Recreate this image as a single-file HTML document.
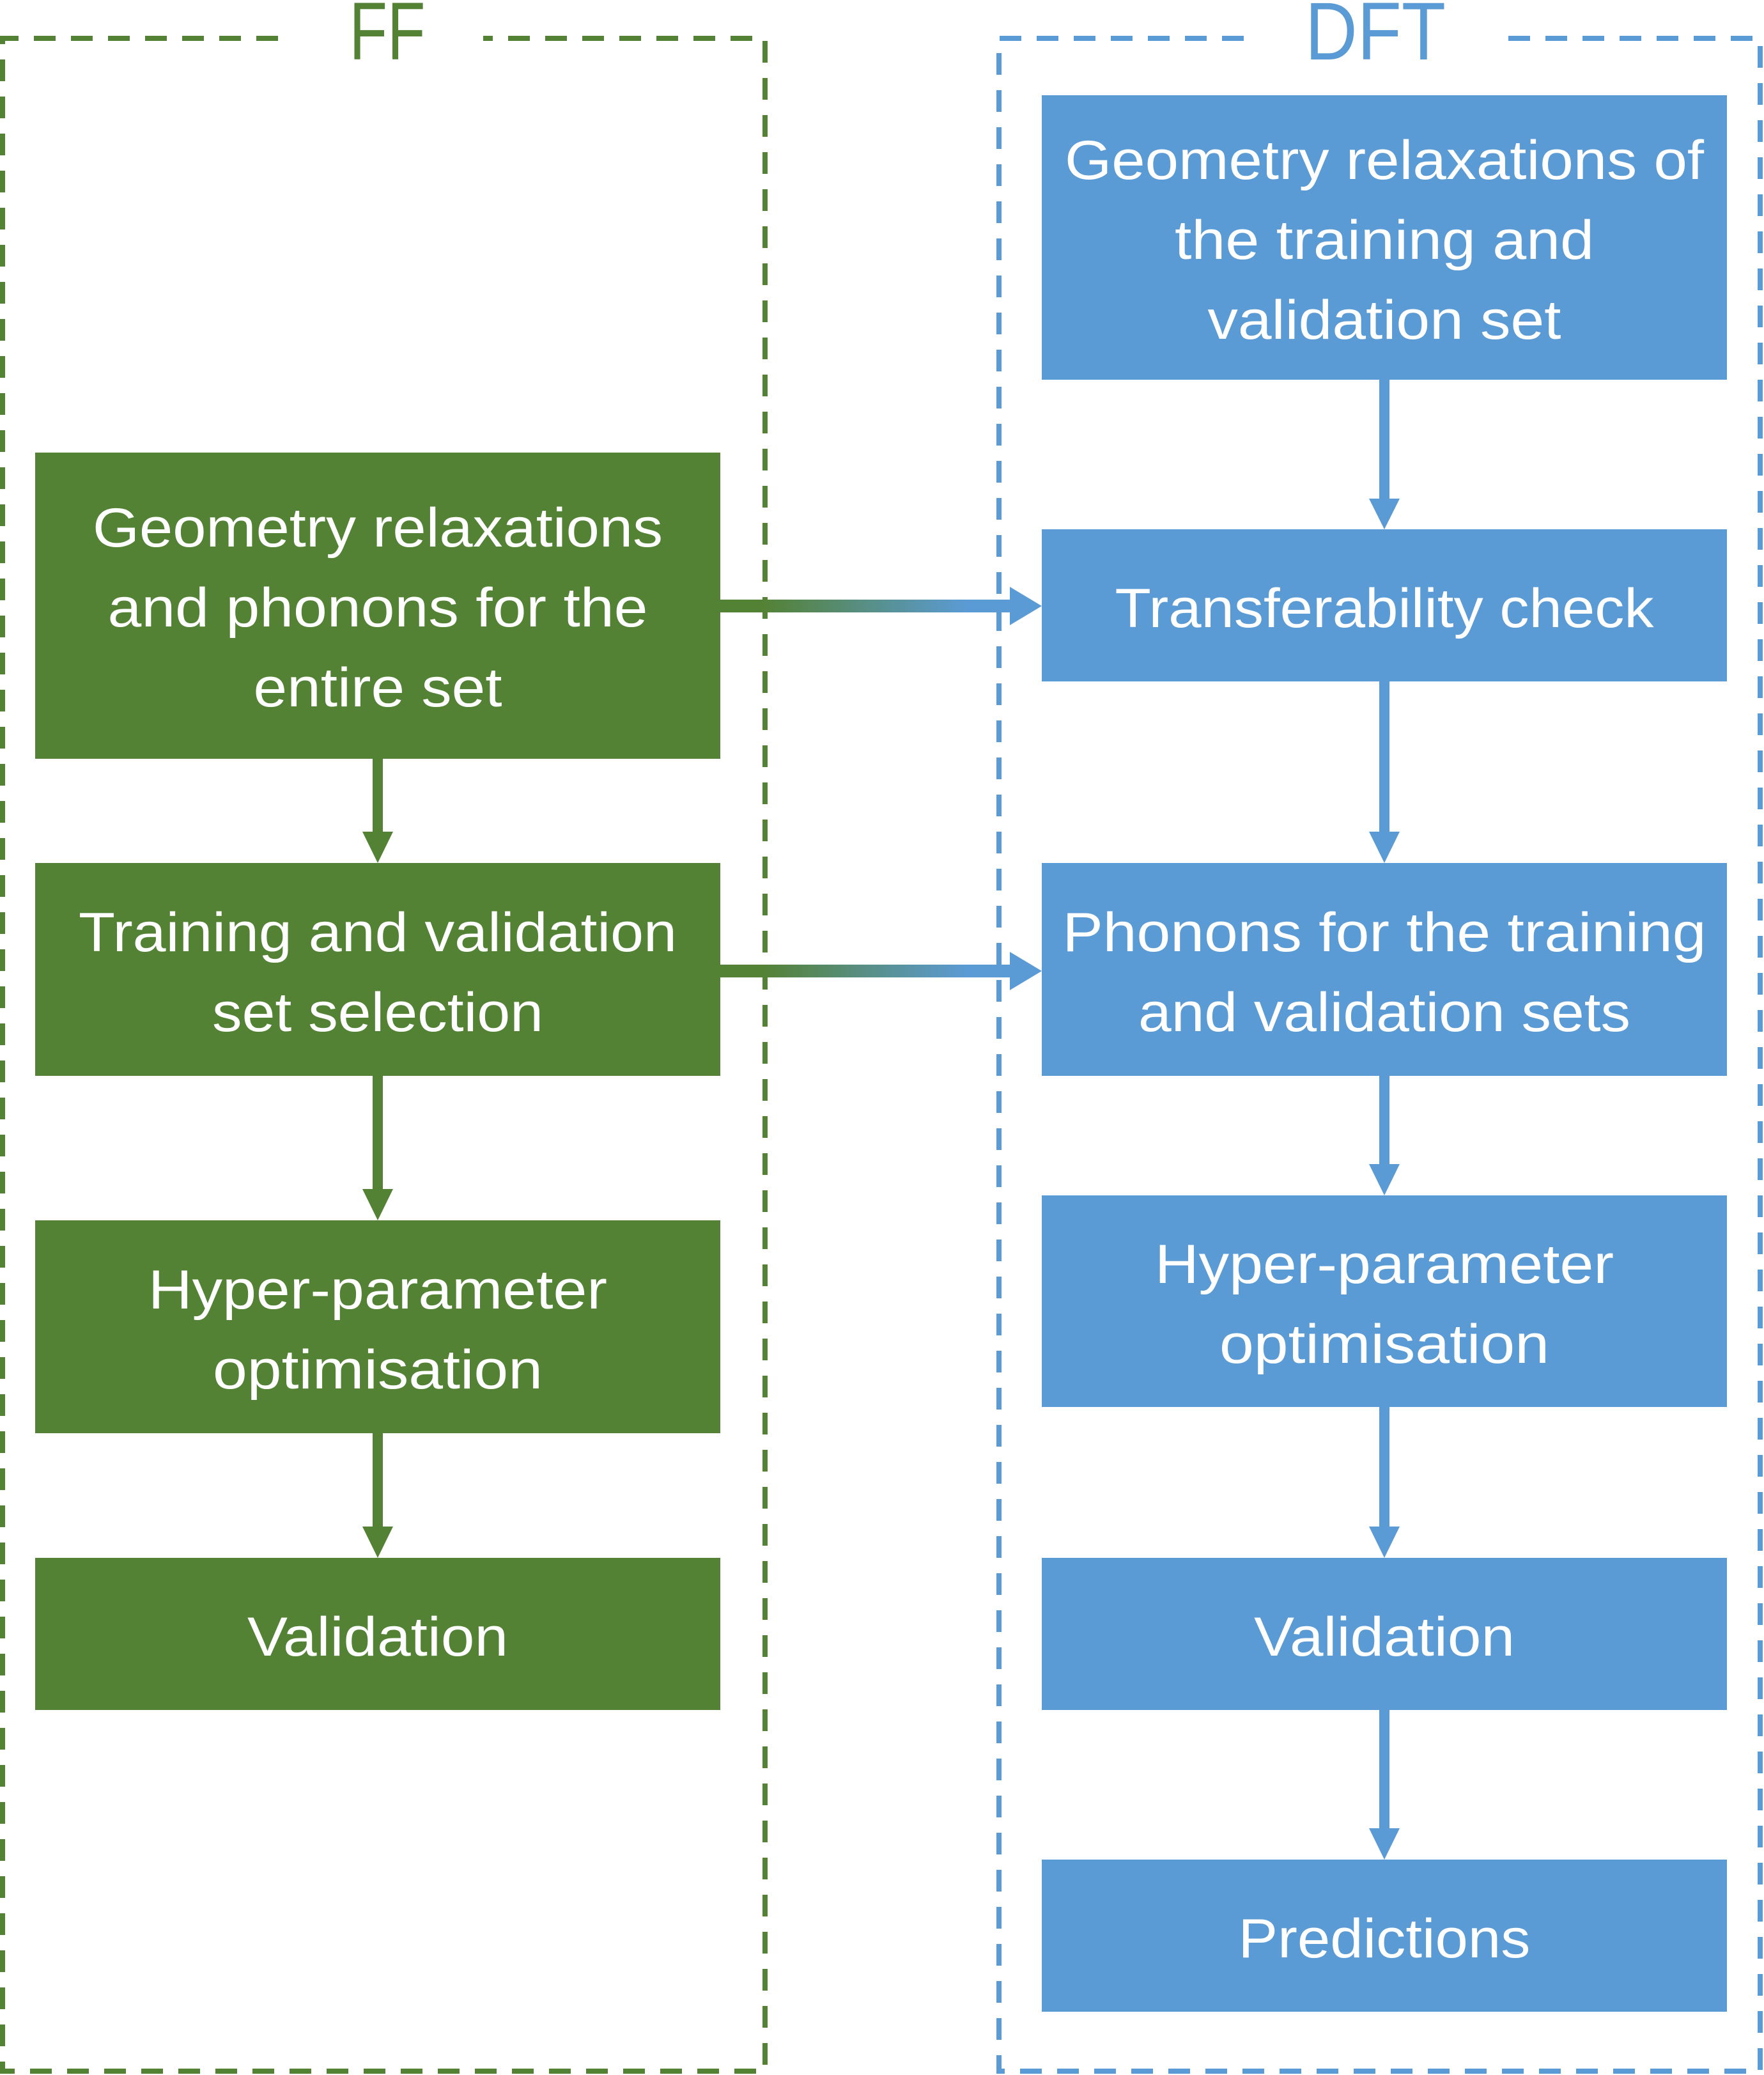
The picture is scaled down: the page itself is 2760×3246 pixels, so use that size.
<!DOCTYPE html>
<html><head><meta charset="utf-8"><style>html,body{margin:0;padding:0;background:#fff}svg{display:block}</style></head>
<body>
<svg width="2760" height="3246" viewBox="0 0 2760 3246" xmlns="http://www.w3.org/2000/svg" font-family="'Liberation Sans', sans-serif">
<defs>
<linearGradient id="g" x1="0" x2="1" y1="0" y2="0"><stop offset="0" stop-color="#548235"/><stop offset="0.15" stop-color="#548235"/><stop offset="0.85" stop-color="#5B9BD5"/><stop offset="1" stop-color="#5B9BD5"/></linearGradient>
</defs>
<g stroke="#548235" stroke-width="8" fill="none" stroke-dasharray="34 24">
<path d="M435 60 H4 V3240 H1197 V60 H756"/>
</g>
<text x="606" y="93" font-size="128" fill="#548235" text-anchor="middle" textLength="119" lengthAdjust="spacingAndGlyphs">FF</text>
<g stroke="#5B9BD5" stroke-width="8" fill="none" stroke-dasharray="34 24">
<path d="M1946 60 H1563 V3240 H2754 V60 H2360"/>
</g>
<text x="2152" y="93" font-size="128" fill="#5B9BD5" text-anchor="middle" textLength="220" lengthAdjust="spacingAndGlyphs">DFT</text>

<g fill="#548235">
<rect x="55" y="708" width="1072" height="479"/>
<rect x="55" y="1350" width="1072" height="333"/>
<rect x="55" y="1909" width="1072" height="333"/>
<rect x="55" y="2437" width="1072" height="238"/>
<rect x="583" y="1187" width="16" height="116"/><polygon points="567,1301 615,1301 591,1350"/>
<rect x="583" y="1683" width="16" height="178"/><polygon points="567,1860 615,1860 591,1909"/>
<rect x="583" y="2242" width="16" height="147"/><polygon points="567,2388 615,2388 591,2437"/>
</g>
<g fill="#5B9BD5">
<rect x="1630" y="149" width="1072" height="445"/>
<rect x="1630" y="828" width="1072" height="238"/>
<rect x="1630" y="1350" width="1072" height="333"/>
<rect x="1630" y="1870" width="1072" height="331"/>
<rect x="1630" y="2437" width="1072" height="238"/>
<rect x="1630" y="2909" width="1072" height="238"/>
<rect x="2158" y="594" width="16" height="187"/><polygon points="2142,780 2190,780 2166,828"/>
<rect x="2158" y="1066" width="16" height="236"/><polygon points="2142,1301 2190,1301 2166,1350"/>
<rect x="2158" y="1683" width="16" height="139"/><polygon points="2142,1821 2190,1821 2166,1870"/>
<rect x="2158" y="2201" width="16" height="188"/><polygon points="2142,2388 2190,2388 2166,2437"/>
<rect x="2158" y="2675" width="16" height="186"/><polygon points="2142,2860 2190,2860 2166,2909"/>
<polygon points="1580,918 1630,948 1580,978"/>
<polygon points="1580,1489 1630,1519 1580,1549"/>
</g>
<rect x="1127" y="938" width="455" height="20" fill="url(#g)"/>
<rect x="1127" y="1509" width="455" height="20" fill="url(#g)"/>

<g fill="#fff" font-size="86" text-anchor="middle">
<text x="591" y="855" textLength="892" lengthAdjust="spacingAndGlyphs">Geometry relaxations</text>
<text x="591" y="980" textLength="845" lengthAdjust="spacingAndGlyphs">and phonons for the</text>
<text x="591" y="1105" textLength="389" lengthAdjust="spacingAndGlyphs">entire set</text>
<text x="591" y="1488" textLength="936" lengthAdjust="spacingAndGlyphs">Training and validation</text>
<text x="591" y="1613" textLength="518" lengthAdjust="spacingAndGlyphs">set selection</text>
<text x="591" y="2047" textLength="718" lengthAdjust="spacingAndGlyphs">Hyper-parameter</text>
<text x="591" y="2172" textLength="516" lengthAdjust="spacingAndGlyphs">optimisation</text>
<text x="591" y="2590" textLength="408" lengthAdjust="spacingAndGlyphs">Validation</text>

<text x="2166" y="280" textLength="1000" lengthAdjust="spacingAndGlyphs">Geometry relaxations of</text>
<text x="2166" y="405" textLength="656" lengthAdjust="spacingAndGlyphs">the training and</text>
<text x="2166" y="530" textLength="553" lengthAdjust="spacingAndGlyphs">validation set</text>
<text x="2166" y="981" textLength="843" lengthAdjust="spacingAndGlyphs">Transferability check</text>
<text x="2166" y="1488" textLength="1007" lengthAdjust="spacingAndGlyphs">Phonons for the training</text>
<text x="2166" y="1613" textLength="770" lengthAdjust="spacingAndGlyphs">and validation sets</text>
<text x="2166" y="2007" textLength="718" lengthAdjust="spacingAndGlyphs">Hyper-parameter</text>
<text x="2166" y="2132" textLength="516" lengthAdjust="spacingAndGlyphs">optimisation</text>
<text x="2166" y="2590" textLength="408" lengthAdjust="spacingAndGlyphs">Validation</text>
<text x="2166" y="3062" textLength="457" lengthAdjust="spacingAndGlyphs">Predictions</text>
</g>
</svg>
</body></html>
